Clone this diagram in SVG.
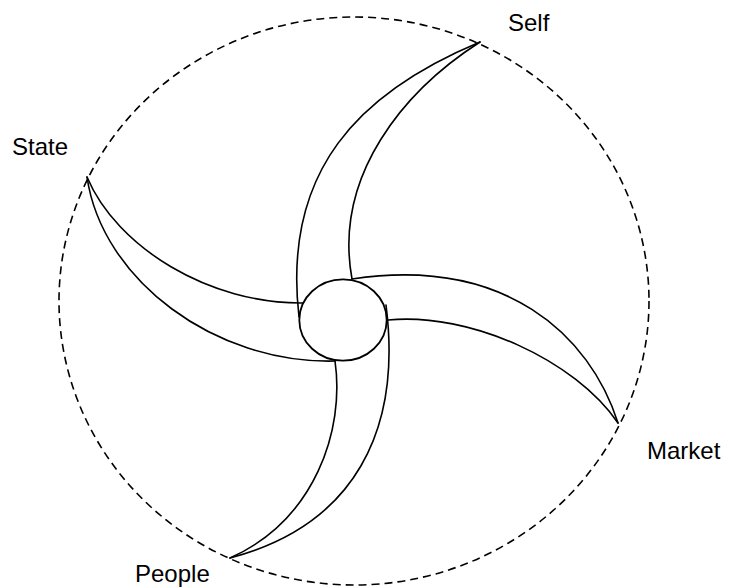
<svg xmlns="http://www.w3.org/2000/svg" width="729" height="588" viewBox="0 0 729 588">
  <style>
    .blade { fill: none; stroke: #000; stroke-width: 1.6; stroke-linecap: round; }
    .hub { fill: #fff; stroke: #000; stroke-width: 1.8; }
    .boundary { fill: none; stroke: #000; stroke-width: 1.6; stroke-dasharray: 8 5; }
    .label { font-family: "Liberation Sans", Arial, sans-serif; font-size: 24px; fill: #000; }
  </style>
  <rect width="729" height="588" fill="#fff"/>
  <g id="boundary">
    <ellipse class="boundary" cx="354" cy="301" rx="295" ry="284"/>
  </g>
  <g id="blade-self">
    <path class="blade" d="M480,42 C360,92 282,170 299,317"/>
    <path class="blade" d="M480,42 C405,90 333,175 352,279"/>
    <text class="label" x="508" y="31">Self</text>
  </g>
  <g id="blade-state">
    <path class="blade" d="M87,177 C117,248 210,304 303,303"/>
    <path class="blade" d="M87,177 C102,280 215,364 335,361"/>
    <text class="label" x="12" y="155">State</text>
  </g>
  <g id="blade-market">
    <path class="blade" d="M352,279 C505,256 590,335 618,423"/>
    <path class="blade" d="M388,320 C470,312 575,360 618,423"/>
    <text class="label" x="647" y="459">Market</text>
  </g>
  <g id="blade-people">
    <path class="blade" d="M230,558 C315,520 345,430 335,361"/>
    <path class="blade" d="M230,558 C355,525 402,430 386,305"/>
    <text class="label" x="135" y="582">People</text>
  </g>
  <g id="hub">
    <ellipse class="hub" cx="343" cy="320" rx="43.7" ry="40.7"/>
  </g>
</svg>
